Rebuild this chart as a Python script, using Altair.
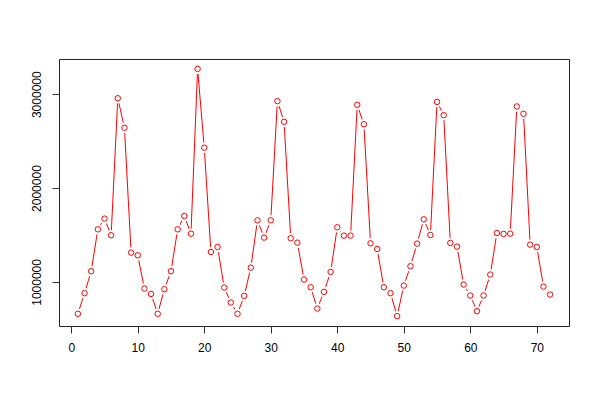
import altair as alt
import pandas as pd

index = list(range(1, 73))
values = [
    660000, 880000, 1114000, 1560000, 1674000, 1497000, 2957000, 2642000, 1312000, 1284000,
    929000, 872000, 660000, 922000, 1114000, 1560000, 1702000, 1514000, 3270000, 2430000,
    1319000, 1372000, 940000, 780000, 660000, 851000, 1152000, 1656000, 1472000, 1656000,
    2926000, 2706000, 1465000, 1418000, 1025000, 943000, 716000, 894000, 1106000, 1582000,
    1493000, 1493000, 2887000, 2680000, 1411000, 1351000, 943000, 880000, 635000, 961000,
    1167000, 1408000, 1667000, 1500000, 2918000, 2777000, 1415000, 1376000, 972000, 855000,
    688000, 855000, 1078000, 1521000, 1511000, 1514000, 2869000, 2791000, 1397000, 1372000,
    950000, 865000,
]
x_ticks = [0, 10, 20, 30, 40, 50, 60, 70]
y_ticks = [1000000, 2000000, 3000000]

df = pd.DataFrame({"i": index, "v": values})

font = "Liberation Sans"
xs = alt.X("i:Q", scale=alt.Scale(domain=[-1.84, 74.84], nice=False, zero=False),
           axis=alt.Axis(values=x_ticks, title=None, grid=False, domain=False, tickSize=7,
                         tickColor="#333", labelPadding=9, labelFont=font, labelFontSize=12,
                         labelColor="black", format="d"))
ys = alt.Y("v:Q", scale=alt.Scale(domain=[530000, 3375000], nice=False, zero=False),
           axis=alt.Axis(values=y_ticks, title=None, grid=False, domain=False, tickSize=7,
                         tickColor="#333", labelPadding=9, labelFont=font, labelFontSize=12,
                         labelColor="black", labelAngle=-90, labelAlign="center",
                         labelBaseline="bottom", format="d"))

base = alt.Chart(df)
line = base.mark_line(color="red", strokeWidth=1).encode(x=xs, y=ys)
gap = base.mark_point(shape="circle", filled=True, color="white", opacity=1, size=110).encode(x="i:Q", y="v:Q")
pts = base.mark_point(shape="circle", filled=False, color="red", strokeWidth=1, size=30, opacity=1).encode(x="i:Q", y="v:Q")

chart = alt.layer(line, gap, pts).properties(
    width=510, height=267,
    background="white",
    autosize=alt.AutoSizeParams(type="none"),
    padding={"left": 51, "top": 51, "right": 15, "bottom": 60},
).configure_view(stroke="#222", strokeWidth=1)

chart.save("out.html", embed_options={"renderer": "svg", "actions": False})
